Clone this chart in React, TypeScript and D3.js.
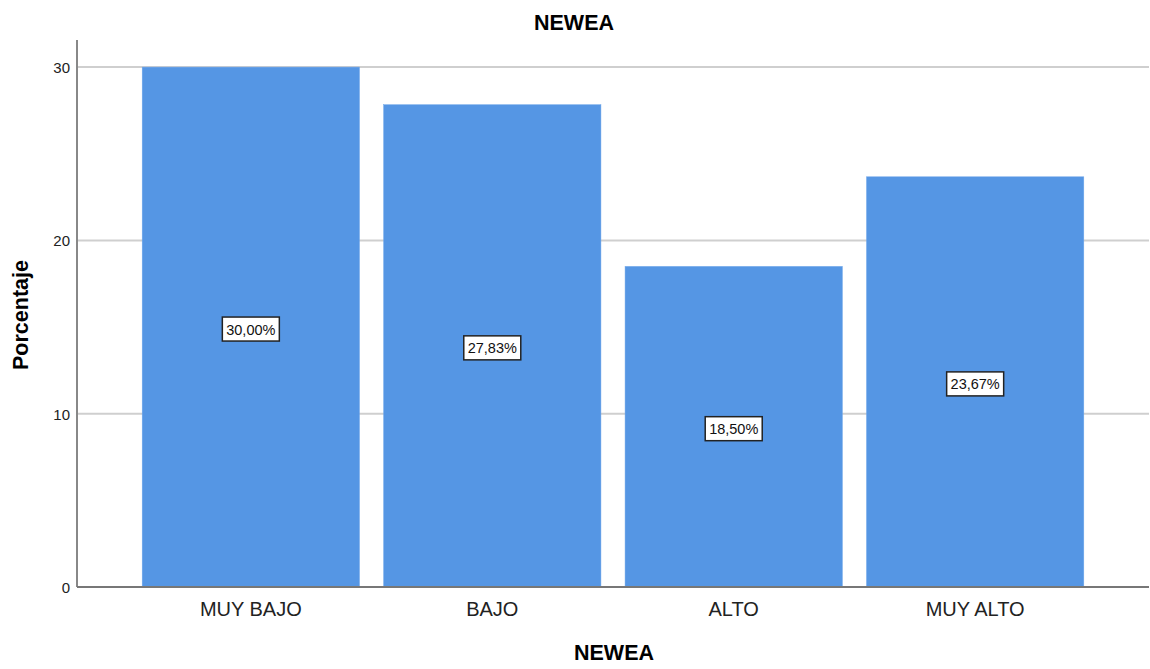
import React from "react";
import * as d3 from "d3";

const categories = ["MUY BAJO", "BAJO", "ALTO", "MUY ALTO"];
const values = [30.0, 27.83, 18.5, 23.67];
const yTicks = [0, 10, 20, 30];

const W = 1150, H = 669;
const x0 = 77, x1 = 1149, yBottom = 587, yTop = 40;

export default function App() {
  const x = d3.scaleBand<string>().domain(categories).range([x0, x1]).paddingInner(0.1).paddingOuter(0.27);
  const y = d3.scaleLinear().domain([0, 30]).range([yBottom, yBottom - 30 * 17.33]);
  const font = "'Liberation Sans', Arial, sans-serif";
  const fmt = (v: number) => v.toFixed(2).replace(".", ",") + "%";
  return (
    <svg width={W} height={H} style={{ position: "absolute", left: 0, top: 0, fontFamily: font }}>
      <rect width={W} height={H} fill="#fff" />
      <text x={574} y={30} textAnchor="middle" fontSize={21.5} fontWeight="bold" fill="#000">NEWEA</text>
      {yTicks.filter(t => t > 0).map(t => (
        <line key={t} x1={x0} x2={x1} y1={y(t)} y2={y(t)} stroke="#cfcfcf" strokeWidth={2} />
      ))}
      {categories.map((c, i) => (
        <rect key={c} x={x(c)} y={y(values[i])} width={x.bandwidth()} height={yBottom - y(values[i])} fill="#5596E4" stroke="#6fa6ea" strokeWidth={0.5} />
      ))}
      <line x1={x0} x2={x0} y1={yTop} y2={yBottom} stroke="#888" strokeWidth={2} />
      <line x1={x0} x2={x1} y1={yBottom} y2={yBottom} stroke="#777" strokeWidth={2} />
      {yTicks.map(t => (
        <text key={t} x={70} y={y(t) + 6} textAnchor="end" fontSize={15} fill="#222">{t}</text>
      ))}
      {categories.map((c, i) => {
        const cx = (x(c) as number) + x.bandwidth() / 2;
        const cy = y(values[i] / 2) + 2;
        const w = 57, h = 24;
        return (
          <g key={c}>
            <rect x={cx - w / 2} y={cy - h / 2} width={w} height={h} fill="#fff" stroke="#222" strokeWidth={1.5} />
            <text x={cx} y={cy + 5.5} textAnchor="middle" fontSize={14.5} fill="#111">{fmt(values[i])}</text>
            <text x={cx} y={616} textAnchor="middle" fontSize={20} fill="#222">{c}</text>
          </g>
        );
      })}
      <text transform={`translate(28,315) rotate(-90)`} textAnchor="middle" fontSize={21.5} fontWeight="bold" fill="#000">Porcentaje</text>
      <text x={614} y={660} textAnchor="middle" fontSize={21.5} fontWeight="bold" fill="#000">NEWEA</text>
    </svg>
  );
}
